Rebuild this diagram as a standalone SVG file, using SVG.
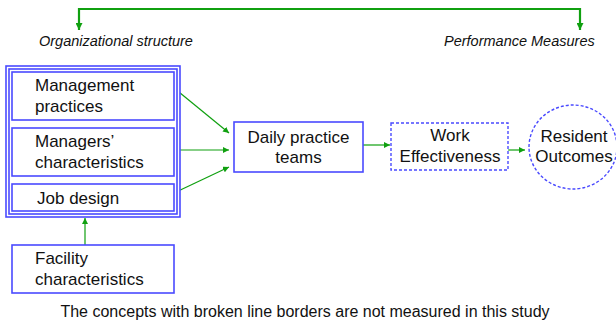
<svg xmlns="http://www.w3.org/2000/svg" width="616" height="324" viewBox="0 0 616 324">
<style>
text{font-family:"Liberation Sans",Arial,sans-serif;fill:#111;}
.t{font-size:17px;}
.it{font-size:14.5px;font-style:italic;}
.box{fill:#fff;stroke:#4a4aff;stroke-width:1.6;}
.dash{fill:#fff;stroke:#4a4aff;stroke-width:1.4;stroke-dasharray:3 2;}
.c{fill:none;stroke:#10a010;stroke-width:1.2;}
.top{fill:none;stroke:#10a010;stroke-width:2.2;}
</style>
<defs>
<marker id="ah" viewBox="0 0 10 10" refX="10" refY="5" markerWidth="6" markerHeight="6" markerUnits="userSpaceOnUse" orient="auto">
<path d="M0,0 L10,5 L0,10 z" fill="#10a010"/>
</marker>
<marker id="ah2" viewBox="0 0 10 10" refX="10" refY="5" markerWidth="7" markerHeight="7" markerUnits="userSpaceOnUse" orient="auto">
<path d="M0,0 L10,5 L0,10 z" fill="#10a010"/>
</marker>
</defs>
<g id="connectors">
<path class="top" d="M330,9 H79 V30" marker-end="url(#ah2)"/>
<path class="top" d="M329,9 H580 V30" marker-end="url(#ah2)"/>
<line class="c" x1="174" y1="88" x2="229" y2="133" marker-end="url(#ah)"/>
<line class="c" x1="174" y1="150" x2="229" y2="150" marker-end="url(#ah)"/>
<line class="c" x1="174" y1="193" x2="229" y2="167" marker-end="url(#ah)"/>
<line class="c" x1="363" y1="145" x2="390" y2="145" marker-end="url(#ah)"/>
<line class="c" x1="508" y1="150" x2="525" y2="150" marker-end="url(#ah)"/>
<line class="c" x1="85" y1="245" x2="85" y2="218" marker-end="url(#ah)"/>
</g>
<g id="label-org"><text class="it" x="39" y="46">Organizational structure</text></g>
<g id="label-perf"><text class="it" x="444" y="46">Performance Measures</text></g>
<g id="org-group">
<rect class="box" x="6" y="66" width="174" height="151"/>
<rect class="box" x="9" y="69" width="168" height="145"/>
</g>
<g id="management-practices">
<rect class="box" x="12" y="72" width="162" height="48"/>
<text class="t" x="35" y="91">Management</text>
<text class="t" x="35" y="112">practices</text>
</g>
<g id="managers-characteristics">
<rect class="box" x="12" y="128" width="162" height="48"/>
<text class="t" x="35" y="147">Managers’</text>
<text class="t" x="35" y="168">characteristics</text>
</g>
<g id="job-design">
<rect class="box" x="12" y="184" width="162" height="27"/>
<text class="t" x="37" y="204">Job design</text>
</g>
<g id="facility">
<rect class="box" x="12" y="245" width="162" height="48"/>
<text class="t" x="35" y="264">Facility</text>
<text class="t" x="35" y="285">characteristics</text>
</g>
<g id="daily-teams">
<rect class="box" x="234" y="122" width="129" height="50"/>
<text class="t" x="298.5" y="143" text-anchor="middle">Daily practice</text>
<text class="t" x="298.5" y="163" text-anchor="middle">teams</text>
</g>
<g id="work-effectiveness">
<rect class="dash" x="391" y="123" width="117" height="47"/>
<text class="t" x="450" y="141" text-anchor="middle">Work</text>
<text class="t" x="450" y="162" text-anchor="middle">Effectiveness</text>
</g>
<g id="resident-outcomes">
<ellipse class="dash" cx="573" cy="147" rx="44" ry="42"/>
<text class="t" x="574" y="142" text-anchor="middle">Resident</text>
<text class="t" x="574" y="162" text-anchor="middle">Outcomes</text>
</g>
<g id="note"><text x="305" y="317" text-anchor="middle" style="font-size:16px">The concepts with broken line borders are not measured in this study</text></g>
</svg>
